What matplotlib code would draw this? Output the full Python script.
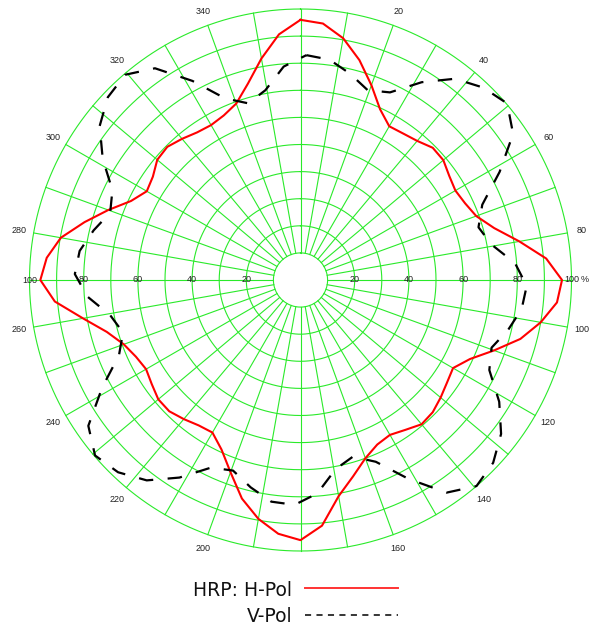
import numpy as np
import matplotlib
matplotlib.use("Agg")
import matplotlib.pyplot as plt
from matplotlib.lines import Line2D

# ---------------- data ----------------
# H-Pol (red), angle in degrees (clockwise from north) and relative level in %
h_angles = [0, 5, 10, 15, 20, 25, 30, 35, 40, 45, 50, 55, 60, 65, 70, 75, 80, 85,
            90, 95, 100, 105, 110, 115, 120, 125, 130, 135, 140, 145, 150, 155, 160, 165, 170, 175,
            180, 185, 190, 195, 200, 205, 210, 215, 220, 225, 230, 235, 240, 245, 250, 255, 260, 265,
            270, 275, 280, 285, 290, 295, 300, 305, 310, 315, 320, 325, 330, 335, 340, 345, 350, 355]
h_values = [96, 95, 90.6, 84, 76.5, 69.5, 65.5, 66, 67, 69, 68.8, 67, 66, 67, 69, 74, 82, 91,
            96.5, 95, 90, 84, 76, 69, 65, 66, 67.5, 69, 69.5, 67.5, 66, 67, 70, 75, 81, 91,
            96, 94, 89.5, 83.5, 75.5, 69, 65, 65.5, 67, 68.5, 68.5, 67, 65.8, 67, 69.4, 74, 81.5, 91,
            96, 94, 89.8, 82.5, 75.5, 69, 65.5, 66.5, 69, 69.5, 68, 66.5, 66, 67, 69.3, 75, 83, 91]

# V-Pol (black dashed)
v_angles = [1.5, 7.5, 13.5, 19.5, 25.5, 31.5, 37.5, 43.5, 49.5, 55.5, 61.5, 67.5, 73.5, 79.5, 85.5,
            91.5, 97.5, 103.5, 109.5, 115.5, 121.5, 127.5, 133.5, 139.5, 145.5, 151.5, 157.5, 163.5, 169.5, 175.5,
            181.5, 187.5, 193.5, 199.5, 205.5, 211.5, 217.5, 223.5, 229.5, 235.5, 241.5, 247.5, 253.5, 259.5, 265.5,
            271.5, 277.5, 283.5, 289.5, 295.5, 301.5, 307.5, 313.5, 319.5, 325.5, 331.5, 337.5, 343.5, 349.5, 355.5]
v_values = [83, 82, 78.3, 74.3, 76.7, 85.6, 93.6, 97.9, 100.3, 95.2, 83.6, 72.6, 68.5, 71.7, 79.4,
            83.5, 82.3, 78.8, 74.8, 77.2, 86, 93.3, 98, 100, 95.2, 83.5, 72.6, 68, 71, 79,
            83, 82.5, 78.7, 74.6, 76.7, 85.5, 93.2, 97.8, 99.7, 95, 83.3, 72.5, 68.3, 71.4, 78.8,
            83.3, 82.2, 78.5, 74.5, 76.9, 85.6, 93.4, 98, 99.6, 94.8, 83.6, 72.5, 68, 71.2, 79]

radial_ticks = [20, 40, 60, 80, 100]
angle_ticks = [20, 40, 60, 80, 100, 120, 140, 160, 200, 220, 240, 260, 280, 300, 320, 340]
legend_labels = ["HRP: H-Pol", "V-Pol"]

# ---------------- figure ----------------
W, H = 589, 626
fig = plt.figure(figsize=(W / 100, H / 100), dpi=100)
fig.patch.set_facecolor("white")

cx, cy, R = 300.5, 280.0, 271.0
ax = fig.add_axes([(cx - R) / W, (H - cy - R) / H, 2 * R / W, 2 * R / H], projection="polar")
ax.set_theta_zero_location("N")
ax.set_theta_direction(-1)
ax.set_ylim(0, 100)
ax.grid(False)
ax.set_xticks([])
ax.set_yticks([])
ax.spines["polar"].set_visible(False)
ax.patch.set_visible(False)

green = "#2aea2a"
full = np.linspace(0, 2 * np.pi, 721)
for r in range(10, 101, 10):
    ax.plot(full, np.full_like(full, r), color=green, lw=0.8, clip_on=False, zorder=1)
for a in range(0, 360, 10):
    ax.plot([np.deg2rad(a)] * 2, [10, 100], color=green, lw=0.8, clip_on=False, zorder=1)

lab_font = dict(family="Liberation Sans", fontsize=6.5, color="#222222")
for v in radial_ticks:
    for a in (90, 270):
        ax.text(np.deg2rad(a), v, str(v), ha="center", va="center", zorder=4, **lab_font)
for a in angle_ticks:
    ax.text(np.deg2rad(a), 105.5, str(a), ha="center", va="center", clip_on=False, **lab_font)
fig.text(581 / W, 1 - cy / H, "%", ha="left", va="center", **lab_font)

# data curves
ha = np.deg2rad(h_angles + [h_angles[0]])
hv = h_values + [h_values[0]]
ax.plot(ha, hv, color="#ff0000", lw=1.5, clip_on=False, zorder=3)

va_ = np.deg2rad(v_angles + [v_angles[0]])
vv = v_values + [v_values[0]]
ax.plot(va_, vv, color="black", lw=1.6, dashes=(6.5, 6.5), clip_on=False, zorder=3)

# legend (text left, line sample right)
leg_font = dict(family="DejaVu Sans", fontsize=13.5, color="#111111")
fig.text(292 / W, 1 - 596 / H, legend_labels[0], ha="right", va="baseline", **leg_font)
fig.text(292 / W, 1 - 622 / H, legend_labels[1], ha="right", va="baseline", **leg_font)
fig.add_artist(Line2D([305 / W, 398 / W], [1 - 588 / H] * 2, color="#ff3333", lw=1.4,
                      transform=fig.transFigure))
fig.add_artist(Line2D([305 / W, 398 / W], [1 - 615 / H] * 2, color="black", lw=1.1,
                      dashes=(4, 3.5), transform=fig.transFigure))

fig.savefig("out.png", dpi=100, facecolor="white")
